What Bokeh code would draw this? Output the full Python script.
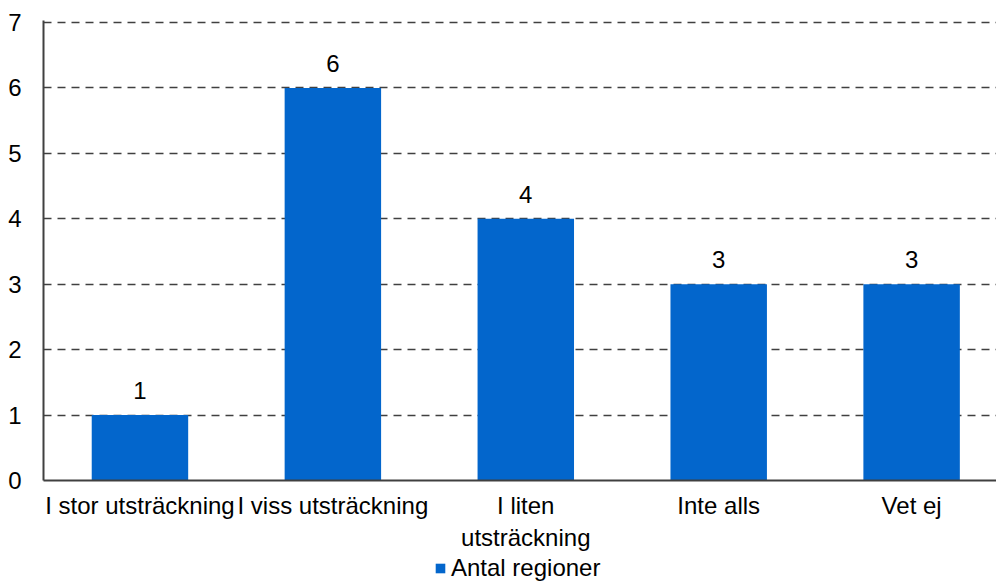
from bokeh.plotting import figure
from bokeh.layouts import column
from bokeh.models import (ColumnDataSource, Range1d, FixedTicker, LabelSet,
                          Legend, LegendItem)
from bokeh.core.properties import value
from bokeh.embed import file_html
from bokeh.resources import INLINE

# Survey answers: how many regions chose each response
categories = ["I stor utsträckning", "I viss utsträckning",
              "I liten\nutsträckning", "Inte alls", "Vet ej"]
values = [1, 6, 4, 3, 3]
y_ticks = [0, 1, 2, 3, 4, 5, 6, 7]
series_name = "Antal regioner"

BAR_COLOR = "#0366CC"
AXIS_COLOR = "#404040"
FONT = "Liberation Sans"
FONT_SIZE = "24px"

xs = list(range(len(categories)))
source = ColumnDataSource(data=dict(
    x=xs,
    values=values,
    labels=[str(v) for v in values],
))

p = figure(
    width=996, height=553,
    output_backend="svg", toolbar_location=None,
    x_range=Range1d(-0.5, 4.44),
    y_range=Range1d(0, 7.03),
    min_border_left=43, min_border_right=0,
    min_border_top=20, min_border_bottom=72,
)
p.outline_line_color = None
p.background_fill_color = "white"
p.border_fill_color = "white"

bar_style = dict(fill_color=BAR_COLOR, line_color=None)
bars = p.vbar(x="x", top="values", width=0.5, source=source, **bar_style)

# value labels above each bar
labels = LabelSet(x="x", y="values", text="labels", source=source,
                  text_align="center", text_baseline="alphabetic",
                  y_offset=16, text_font=value(FONT),
                  text_font_size=value(FONT_SIZE),
                  text_color="#000000")
p.add_layout(labels)

# x axis: category names
p.xaxis.ticker = FixedTicker(ticks=xs)
p.xaxis.major_label_overrides = {i: c for i, c in enumerate(categories)}
p.xaxis.major_label_text_font = FONT
p.xaxis.major_label_text_font_size = FONT_SIZE
p.xaxis.major_label_text_color = "#000000"
p.xaxis.major_label_standoff = 5
p.xaxis.major_tick_line_color = None
p.xaxis.minor_tick_line_color = None
p.xaxis.axis_line_color = AXIS_COLOR
p.xaxis.axis_line_width = 2

# y axis: counts 0..7
p.yaxis.ticker = FixedTicker(ticks=y_ticks)
p.yaxis.major_label_text_font = FONT
p.yaxis.major_label_text_font_size = FONT_SIZE
p.yaxis.major_label_text_color = "#000000"
p.yaxis.major_label_standoff = 16
p.yaxis.major_tick_line_color = None
p.yaxis.minor_tick_line_color = None
p.yaxis.axis_line_color = AXIS_COLOR
p.yaxis.axis_line_width = 2

p.xgrid.grid_line_color = None
p.ygrid.ticker = FixedTicker(ticks=y_ticks[1:])
p.ygrid.grid_line_color = AXIS_COLOR
p.ygrid.grid_line_width = 1.5
p.ygrid.grid_line_dash = "8 6"

# series key in its own strip under the chart
key = figure(
    width=996, height=29,
    output_backend="svg", toolbar_location=None,
    x_range=Range1d(100, 101), y_range=Range1d(100, 101),
    min_border=0,
)
key.axis.visible = False
key.grid.visible = False
key.outline_line_color = None
key_bars = key.vbar(x="x", top="values", width=0.5, source=source,
                    **bar_style)

legend = Legend(
    items=[LegendItem(label=series_name, renderers=[key_bars])],
    orientation="horizontal", location=(391, 0),
    glyph_width=12, glyph_height=12,
    label_text_font=FONT, label_text_font_size=FONT_SIZE,
    label_text_color="#000000", label_standoff=5,
    label_height=24,
    padding=0, margin=0, spacing=0,
    border_line_color=None, background_fill_alpha=0,
)
key.add_layout(legend)

layout = column(p, key, spacing=0)
open("out.html", "w").write(file_html(layout, INLINE))
